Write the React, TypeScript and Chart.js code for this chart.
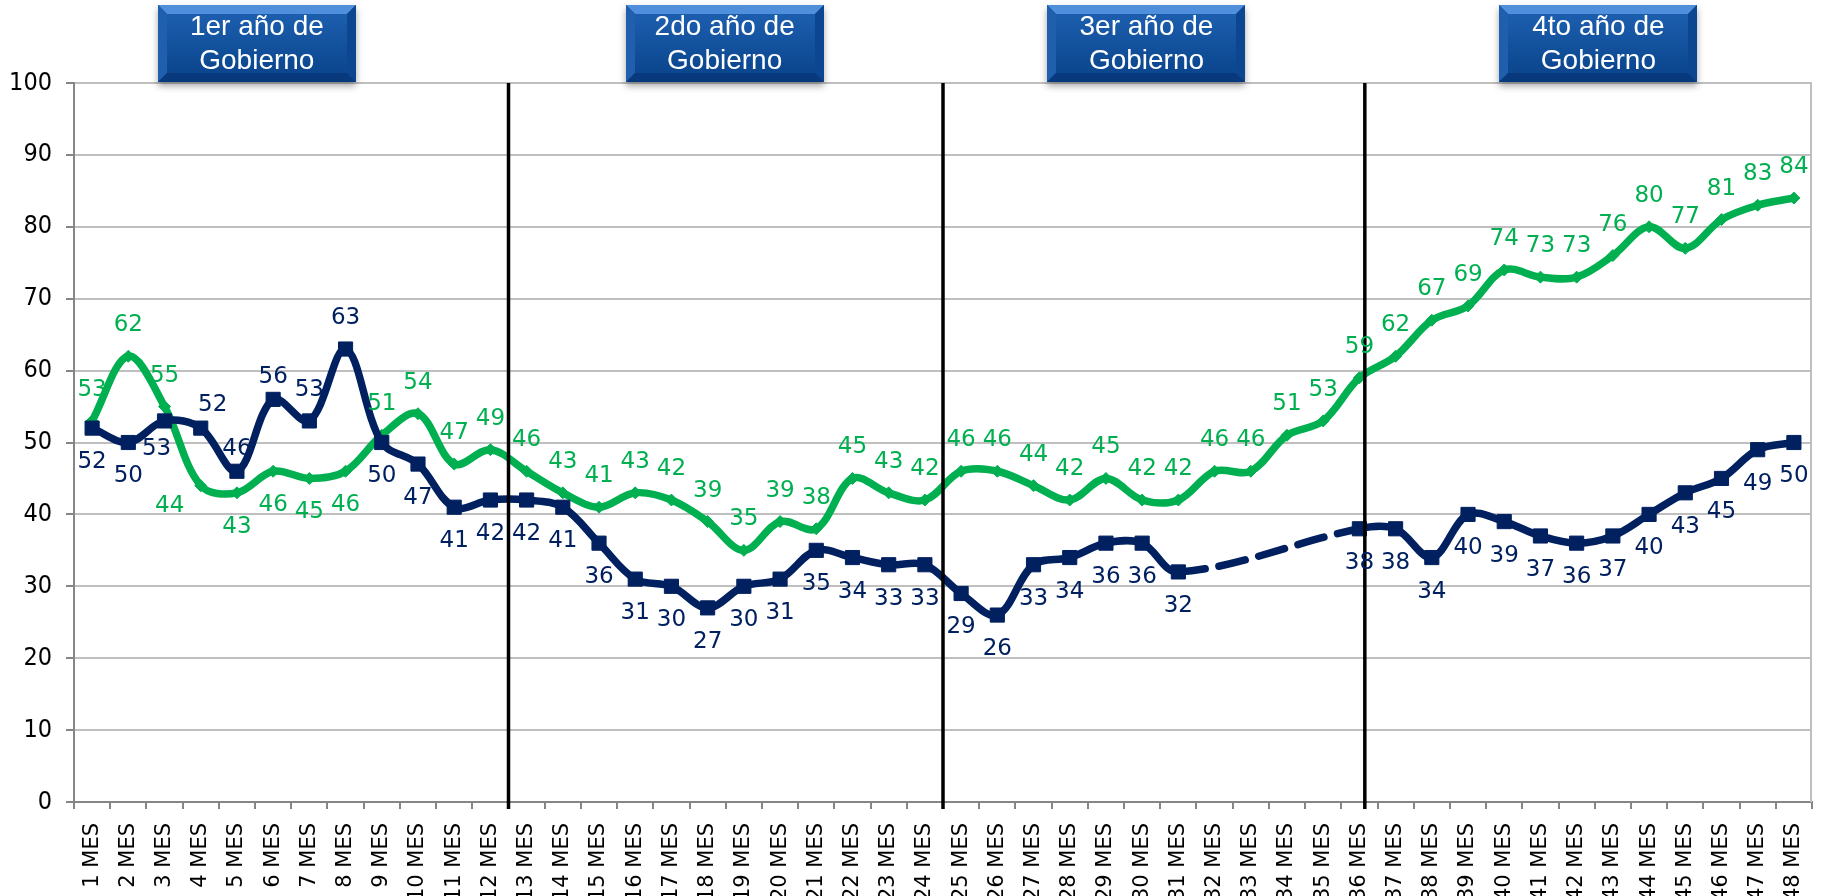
import React, { useEffect, useRef } from 'react';
import { Chart, registerables } from 'chart.js';

Chart.register(...registerables);

// ---------- data ----------
const monthLabels = [
  '1 MES', '2 MES', '3 MES', '4 MES', '5 MES', '6 MES', '7 MES', '8 MES', '9 MES', '10 MES', '11 MES', '12 MES',
  '13 MES', '14 MES', '15 MES', '16 MES', '17 MES', '18 MES', '19 MES', '20 MES', '21 MES', '22 MES', '23 MES', '24 MES',
  '25 MES', '26 MES', '27 MES', '28 MES', '29 MES', '30 MES', '31 MES', '32 MES', '33 MES', '34 MES', '35 MES', '36 MES',
  '37 MES', '38 MES', '39 MES', '40 MES', '41 MES', '42 MES', '43 MES', '44 MES', '45 MES', '46 MES', '47 MES', '48 MES',
];

const greenValues = [
  53, 62, 55, 44, 43, 46, 45, 46, 51, 54, 47, 49,
  46, 43, 41, 43, 42, 39, 35, 39, 38, 45, 43, 42,
  46, 46, 44, 42, 45, 42, 42, 46, 46, 51, 53, 59,
  62, 67, 69, 74, 73, 73, 76, 80, 77, 81, 83, 84,
];

const navyValues: (number | null)[] = [
  52, 50, 53, 52, 46, 56, 53, 63, 50, 47, 41, 42,
  42, 41, 36, 31, 30, 27, 30, 31, 35, 34, 33, 33,
  29, 26, 33, 34, 36, 36, 32, null, null, null, null, 38,
  38, 34, 40, 39, 37, 36, 37, 40, 43, 45, 49, 50,
];

const yearTitles = [
  ['1er año de', 'Gobierno'],
  ['2do año de', 'Gobierno'],
  ['3er año de', 'Gobierno'],
  ['4to año de', 'Gobierno'],
];

const yTicks = [0, 10, 20, 30, 40, 50, 60, 70, 80, 90, 100];

// ---------- layout / style (not data) ----------
const GREEN = '#00B050';
const NAVY = '#002060';
// label placement codes: a = above, n = slightly above, b = below, L = left-below, l = below-left, A = above-right
const greenLabelPos = 'aaaLbbbbaaaa' + 'aaaaaaaaaaaa' + 'aaaaaaaaaaaa' + 'aaaaaaaaaaaa';
const navyLabelPos = 'bblAnnaabbbb' + 'bbbbbbbbbbbb' + 'bbbbbbbbbbbb' + 'bbbbbbbbbbbb';
const dividerAt = [11.5, 23.5, 35.15]; // category-index positions of the black separators
const boxCenterAt = [4.55, 17.47, 29.12, 41.6]; // category-index positions of title boxes

const SANS = '"DejaVu Sans", sans-serif';
const CONDENSED = '"DejaVu Sans Condensed", "DejaVu Sans", sans-serif';
const LABEL_FONT = '23px ' + SANS;

function labelOffset(code: string): [number, number] {
  switch (code) {
    case 'a': return [0, -31];
    case 'n': return [0, -22];
    case 'b': return [0, 34];
    case 'L': return [-31, 20];
    case 'l': return [-8, 28];
    case 'A': return [12, -23];
    default: return [0, 0];
  }
}

function drawBox(ctx: CanvasRenderingContext2D, cx: number, lines: string[]) {
  const w = 198, h = 77, t = 5;
  const l = Math.round(cx - w / 2);
  const r = l + w, b = t + h, bv = 9;
  ctx.save();
  ctx.shadowColor = 'rgba(0,0,0,0.35)';
  ctx.shadowBlur = 7;
  ctx.shadowOffsetY = 4;
  ctx.fillStyle = '#0f4a94';
  ctx.fillRect(l, t, w, h);
  ctx.restore();

  ctx.save();
  const poly = (pts: number[][], fill: string | CanvasGradient) => {
    ctx.beginPath();
    ctx.moveTo(pts[0][0], pts[0][1]);
    for (let i = 1; i < pts.length; i++) ctx.lineTo(pts[i][0], pts[i][1]);
    ctx.closePath();
    ctx.fillStyle = fill;
    ctx.fill();
  };
  poly([[l, t], [r, t], [r - bv, t + bv], [l + bv, t + bv]], '#4f8fdc');
  poly([[l, t], [l + bv, t + bv], [l + bv, b - bv], [l, b]], '#1f5fae');
  poly([[r, t], [r - bv, t + bv], [r - bv, b - bv], [r, b]], '#0c4690');
  poly([[l, b], [l + bv, b - bv], [r - bv, b - bv], [r, b]], '#07397c');
  const g = ctx.createLinearGradient(0, t + bv, 0, b - bv);
  g.addColorStop(0, '#1c5eae');
  g.addColorStop(1, '#0b468e');
  ctx.fillStyle = g;
  ctx.fillRect(l + bv, t + bv, w - 2 * bv, h - 2 * bv);

  ctx.fillStyle = '#ffffff';
  ctx.font = '28px "Liberation Sans", Arial, sans-serif';
  ctx.textAlign = 'center';
  ctx.textBaseline = 'middle';
  ctx.fillText(lines[0], cx, t + 22);
  ctx.fillText(lines[1], cx, t + 56);
  ctx.restore();
}

const overlayPlugin = {
  id: 'overlay',
  afterDatasetsDraw(chart: any) {
    const { ctx, chartArea, scales } = chart;
    const x = scales.x;
    ctx.save();
    // right border of plot area
    ctx.strokeStyle = '#BFBFBF';
    ctx.lineWidth = 2;
    ctx.beginPath();
    ctx.moveTo(chartArea.right - 1, chartArea.top);
    ctx.lineTo(chartArea.right - 1, chartArea.bottom);
    ctx.stroke();

    // black separators
    ctx.strokeStyle = '#000000';
    ctx.lineWidth = 3.5;
    for (const d of dividerAt) {
      const px = x.getPixelForValue(d);
      ctx.beginPath();
      ctx.moveTo(px, chartArea.top);
      ctx.lineTo(px, chartArea.bottom + 7);
      ctx.stroke();
    }

    // data labels
    ctx.font = LABEL_FONT;
    ctx.textAlign = 'center';
    ctx.textBaseline = 'middle';
    chart.data.datasets.forEach((ds: any, di: number) => {
      const meta = chart.getDatasetMeta(di);
      const isNavy = ds.label === 'navy';
      const pos = isNavy ? navyLabelPos : greenLabelPos;
      ctx.fillStyle = isNavy ? NAVY : GREEN;
      meta.data.forEach((pt: any, i: number) => {
        const v = ds.data[i];
        if (v === null || v === undefined) return;
        const [dx, dy] = labelOffset(pos[i]);
        ctx.fillText(String(v), pt.x + dx, pt.y + dy);
      });
    });
    ctx.restore();
  },
  afterDraw(chart: any) {
    const { ctx, scales } = chart;
    boxCenterAt.forEach((c, i) => drawBox(ctx, scales.x.getPixelForValue(c), yearTitles[i]));
  },
};

export default function App() {
  const canvasRef = useRef<HTMLCanvasElement | null>(null);

  useEffect(() => {
    if (!canvasRef.current) return;
    const tickFont = { family: SANS, size: 21 };
    const yFont = { family: CONDENSED, size: 25 };
    const chart = new Chart(canvasRef.current, {
      type: 'line',
      data: {
        labels: monthLabels,
        datasets: [
          {
            label: 'navy',
            data: navyValues,
            borderColor: NAVY,
            backgroundColor: NAVY,
            borderWidth: 7.5,
            tension: 0.35,
            spanGaps: true,
            borderCapStyle: 'round',
            borderJoinStyle: 'round',
            pointStyle: 'rect',
            pointRadius: 10,
            pointBorderWidth: 1,
            pointBackgroundColor: NAVY,
            pointBorderColor: NAVY,
            segment: {
              borderDash: (c: any) => (c.p0.skip || c.p1.skip ? [27, 14] : undefined),
            },
          } as any,
          {
            label: 'green',
            data: greenValues,
            borderColor: GREEN,
            backgroundColor: GREEN,
            borderWidth: 7.5,
            tension: 0.35,
            borderCapStyle: 'round',
            borderJoinStyle: 'round',
            pointStyle: 'rectRot',
            pointRadius: 6,
            pointBorderWidth: 1,
            pointBackgroundColor: GREEN,
            pointBorderColor: GREEN,
          } as any,
        ],
      },
      options: {
        responsive: false,
        animation: false,
        layout: { padding: { top: 83, right: 6, left: 0, bottom: 0 } },
        plugins: {
          legend: { display: false },
          tooltip: { enabled: false },
        },
        scales: {
          x: {
            offset: true,
            grid: {
              display: true,
              drawOnChartArea: false,
              drawTicks: true,
              tickLength: 7,
              offset: true,
              color: '#868686',
              tickColor: '#868686',
              lineWidth: 2,
            },
            border: { display: true, color: '#868686', width: 2 },
            ticks: {
              autoSkip: false,
              maxRotation: 90,
              minRotation: 90,
              padding: 14,
              color: '#000000',
              font: tickFont,
            },
            afterFit: (s: any) => {
              s.height = 94;
              s.paddingLeft = 0;
              s.paddingRight = 0;
            },
          },
          y: {
            min: 0,
            max: 100,
            afterBuildTicks: (s: any) => {
              s.ticks = yTicks.map((v) => ({ value: v }));
            },
            ticks: { padding: 14, color: '#000000', font: yFont },
            grid: {
              color: (c: any) => (c.tick && c.tick.value === 0 ? '#868686' : '#BFBFBF'),
              lineWidth: 2,
              tickLength: 8,
              tickColor: '#868686',
            },
            border: { color: '#868686', width: 2 },
            afterFit: (s: any) => {
              s.width = 74;
              s.paddingTop = 0;
              s.paddingBottom = 0;
            },
          },
        },
      } as any,
      plugins: [overlayPlugin],
    });
    return () => chart.destroy();
  }, []);

  return (
    <div style={{ position: 'absolute', left: 0, top: 0, width: 1823, height: 896, background: '#ffffff' }}>
      <canvas ref={canvasRef} width={1823} height={896} style={{ display: 'block' }} />
    </div>
  );
}
